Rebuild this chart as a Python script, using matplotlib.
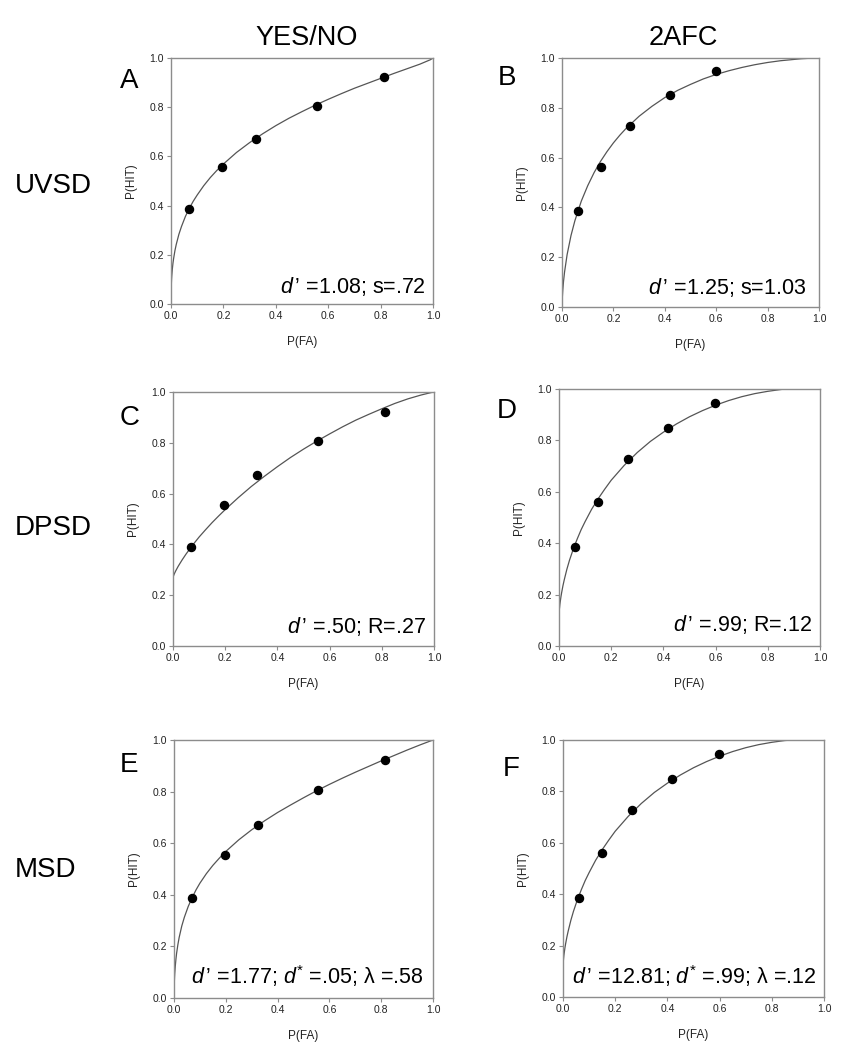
import matplotlib
matplotlib.use('Agg')
import matplotlib.pyplot as plt

plt.rcParams['font.family'] = ['Liberation Sans', 'DejaVu Sans']
plt.rcParams['mathtext.fontset'] = 'custom'
plt.rcParams['mathtext.rm'] = 'Liberation Sans'
plt.rcParams['mathtext.it'] = 'Liberation Sans:italic'

# ---------------- data ----------------
yn_fa = [0.068, 0.195, 0.323, 0.557, 0.813]
yn_hit = [0.388, 0.555, 0.672, 0.806, 0.923]
afc_fa = [0.061, 0.150, 0.263, 0.419, 0.599]
afc_hit = [0.386, 0.561, 0.727, 0.850, 0.946]

curve_a_x = [0.0002, 0.0005, 0.001, 0.002, 0.003, 0.005, 0.0075, 0.01, 0.015, 0.02, 0.03, 0.04, 0.055, 0.07, 0.085,
             0.1, 0.125, 0.15, 0.175, 0.2, 0.25, 0.3, 0.35, 0.4, 0.45, 0.5, 0.55, 0.6, 0.65, 0.7, 0.75, 0.8, 0.85,
             0.9, 0.95, 0.99, 1.0]
curve_a_y = [0.038, 0.056, 0.074, 0.098, 0.115, 0.141, 0.166, 0.185, 0.217, 0.242, 0.283, 0.315, 0.356, 0.389, 0.418,
             0.443, 0.481, 0.514, 0.543, 0.569, 0.616, 0.656, 0.692, 0.725, 0.755, 0.782, 0.808, 0.832, 0.855, 0.877,
             0.897, 0.917, 0.937, 0.956, 0.975, 0.993, 1.0]

curve_b_x = [0.0014, 0.003, 0.006, 0.01, 0.02, 0.035, 0.05, 0.075, 0.1, 0.125, 0.15, 0.175, 0.2, 0.225, 0.25, 0.3,
             0.35, 0.4, 0.45, 0.5, 0.55, 0.6, 0.65, 0.7, 0.75, 0.8, 0.85, 0.9, 0.93, 0.96]
curve_b_y = [0.040, 0.067, 0.104, 0.141, 0.211, 0.287, 0.346, 0.425, 0.487, 0.540, 0.585, 0.624, 0.659, 0.690, 0.718,
             0.766, 0.806, 0.841, 0.870, 0.894, 0.916, 0.934, 0.949, 0.962, 0.973, 0.982, 0.989, 0.994, 0.997, 0.9987]

curve_c_x = [0.0, 0.001, 0.005, 0.01, 0.02, 0.035, 0.05, 0.075, 0.1, 0.125, 0.15, 0.175, 0.2, 0.25, 0.3, 0.35, 0.4,
             0.45, 0.5, 0.55, 0.6, 0.65, 0.7, 0.75, 0.8, 0.85, 0.9, 0.95, 0.99, 1.0]
curve_c_y = [0.270, 0.2735, 0.284, 0.295, 0.314, 0.339, 0.362, 0.397, 0.429, 0.458, 0.486, 0.512, 0.537, 0.584, 0.628,
             0.668, 0.706, 0.742, 0.775, 0.806, 0.835, 0.863, 0.889, 0.912, 0.934, 0.955, 0.973, 0.988, 0.998, 1.0]

curve_d_x = [0.002, 0.0035, 0.005, 0.0075, 0.01, 0.015, 0.02, 0.03, 0.04, 0.055, 0.07, 0.085, 0.1, 0.125, 0.15, 0.175,
             0.2, 0.25, 0.3, 0.35, 0.4, 0.45, 0.5, 0.55, 0.6, 0.65, 0.7, 0.75, 0.8, 0.85, 0.866]
curve_d_y = [0.148, 0.163, 0.174, 0.192, 0.207, 0.234, 0.257, 0.298, 0.333, 0.378, 0.417, 0.453, 0.484, 0.532, 0.573,
             0.610, 0.645, 0.703, 0.753, 0.796, 0.832, 0.864, 0.892, 0.916, 0.937, 0.955, 0.970, 0.982, 0.991, 0.998,
             1.0]

curve_e_x = [0.0002, 0.0005, 0.001, 0.002, 0.003, 0.005, 0.0075, 0.01, 0.015, 0.02, 0.03, 0.04, 0.055, 0.07, 0.085,
             0.1, 0.125, 0.15, 0.175, 0.2, 0.25, 0.3, 0.35, 0.4, 0.45, 0.5, 0.55, 0.6, 0.65, 0.7, 0.75, 0.8, 0.85,
             0.9, 0.95, 1.0]
curve_e_y = [0.022, 0.038, 0.055, 0.079, 0.097, 0.124, 0.151, 0.173, 0.207, 0.235, 0.279, 0.313, 0.355, 0.389, 0.419,
             0.445, 0.482, 0.514, 0.542, 0.568, 0.613, 0.652, 0.687, 0.719, 0.748, 0.776, 0.803, 0.828, 0.852, 0.875,
             0.897, 0.919, 0.940, 0.961, 0.981, 1.0]

curve_f_x = [0.0006, 0.002, 0.0035, 0.005, 0.0075, 0.01, 0.015, 0.02, 0.03, 0.04, 0.055, 0.07, 0.085, 0.1, 0.125,
             0.15, 0.175, 0.2, 0.25, 0.3, 0.35, 0.4, 0.45, 0.5, 0.55, 0.6, 0.65, 0.7, 0.75, 0.8, 0.85, 0.88]
curve_f_y = [0.132, 0.148, 0.163, 0.174, 0.192, 0.207, 0.234, 0.257, 0.298, 0.333, 0.378, 0.417, 0.453, 0.484, 0.532,
             0.573, 0.610, 0.645, 0.703, 0.753, 0.796, 0.832, 0.864, 0.892, 0.916, 0.937, 0.955, 0.970, 0.982, 0.991,
             0.998, 1.0]

tick_vals = [0.0, 0.2, 0.4, 0.6, 0.8, 1.0]
tick_labels = ['0.0', '0.2', '0.4', '0.6', '0.8', '1.0']

col_titles = ['YES/NO', '2AFC']
row_titles = ['UVSD', 'DPSD', 'MSD']
panel_letters = ['A', 'B', 'C', 'D', 'E', 'F']
DP = r"$\mathit{d}\,$’"
annotations = [
    DP + " =1.08; s=.72",
    DP + " =1.25; s=1.03",
    DP + " =.50; R=.27",
    DP + " =.99; R=.12",
    DP + r" =1.77; $\mathit{d}^{*}$ =.05; λ =.58",
    DP + r" =12.81; $\mathit{d}^{*}$ =.99; λ =.12",
]

# ---------------- layout ----------------
W, H = 842, 1050
fig = plt.figure(figsize=(W / 100, H / 100), dpi=100)
fig.patch.set_facecolor('white')


def fx(x):
    return x / W


def fy(y):
    return 1 - y / H


# axes boxes in pixels: left, top, right, bottom
boxes = [
    (171, 58, 433, 304),
    (562, 58, 819, 307),
    (173, 392, 434, 646),
    (559, 389, 820, 646),
    (174, 740, 433, 998),
    (563, 740, 824, 997),
]
ann_pos = [(0.973, 0.045), (0.952, 0.054), (0.969, 0.052),
           (0.968, 0.060), (0.962, 0.053), (0.969, 0.050)]
letter_pos = [(120, 88), (498, 85), (120, 425), (497, 418), (120, 772), (503, 776)]

data_fa = [yn_fa, afc_fa, yn_fa, afc_fa, yn_fa, afc_fa]
data_hit = [yn_hit, afc_hit, yn_hit, afc_hit, yn_hit, afc_hit]
curves_x = [curve_a_x, curve_b_x, curve_c_x, curve_d_x, curve_e_x, curve_f_x]
curves_y = [curve_a_y, curve_b_y, curve_c_y, curve_d_y, curve_e_y, curve_f_y]

spine_col = '#8c8c8c'
for i in range(6):
    l, t, r, b = boxes[i]
    ax = fig.add_axes([fx(l), fy(b), (r - l) / W, (b - t) / H])
    ax.plot(curves_x[i], curves_y[i], color='#555555', lw=0.9, zorder=2,
            solid_joinstyle='round')
    ax.plot(data_fa[i], data_hit[i], 'o', color='black', ms=5.8, zorder=3)
    ax.set_xlim(0, 1)
    ax.set_ylim(0, 1)
    ax.set_xticks(tick_vals)
    ax.set_xticklabels(tick_labels)
    ax.set_yticks(tick_vals)
    ax.set_yticklabels(tick_labels)
    for sp in ax.spines.values():
        sp.set_color(spine_col)
        sp.set_linewidth(1.0)
    ax.tick_params(direction='out', length=3, width=0.8, color=spine_col,
                   labelsize=7.5, labelcolor='#222222', pad=2,
                   top=False, right=False)
    ax.set_xlabel('P(FA)', fontsize=8.5, labelpad=10.5, color='#222222')
    ax.set_ylabel('P(HIT)', fontsize=8.5, labelpad=9, color='#222222')
    axp, ayp = ann_pos[i]
    ax.text(axp, ayp, annotations[i], transform=ax.transAxes,
            ha='right', va='baseline', fontsize=15.5, color='black')
    lx, ly = letter_pos[i]
    fig.text(fx(lx), fy(ly), panel_letters[i], ha='left', va='baseline',
             fontsize=20, color='black')

fig.text(fx(307), fy(45), col_titles[0], ha='center', va='baseline', fontsize=19.5)
fig.text(fx(683), fy(45), col_titles[1], ha='center', va='baseline', fontsize=19.5)

row_baselines = [193, 535, 877]
for name, yb in zip(row_titles, row_baselines):
    fig.text(fx(15), fy(yb), name, ha='left', va='baseline', fontsize=20)

fig.savefig('out.png', dpi=100, facecolor='white')
